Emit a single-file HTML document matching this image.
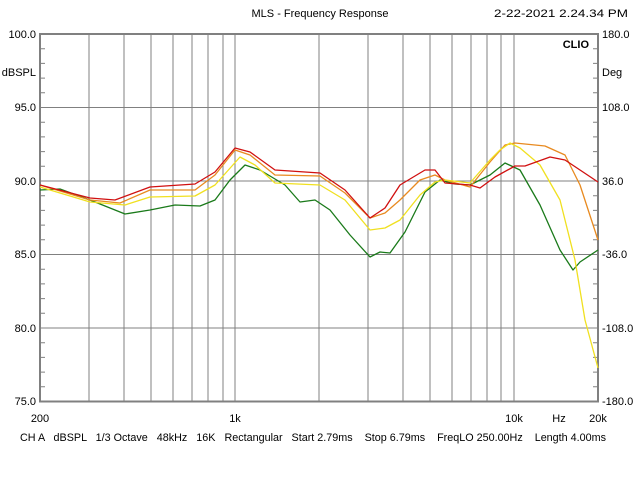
<!DOCTYPE html>
<html><head><style>
body{margin:0;background:#fff;}
svg{display:block;font-family:"Liberation Sans",sans-serif;font-size:11px;}
</style></head><body>
<svg width="640" height="480" viewBox="0 0 640 480" xmlns="http://www.w3.org/2000/svg">
<rect width="640" height="480" fill="#fff"/>
<g stroke="#808080" stroke-width="1">
<line x1="89" y1="34" x2="89" y2="401"/><line x1="124" y1="34" x2="124" y2="401"/>
<line x1="151" y1="34" x2="151" y2="401"/><line x1="173" y1="34" x2="173" y2="401"/>
<line x1="192" y1="34" x2="192" y2="401"/><line x1="208" y1="34" x2="208" y2="401"/>
<line x1="223" y1="34" x2="223" y2="401"/><line x1="235" y1="34" x2="235" y2="401"/>
<line x1="319" y1="34" x2="319" y2="401"/><line x1="368" y1="34" x2="368" y2="401"/>
<line x1="403" y1="34" x2="403" y2="401"/><line x1="430" y1="34" x2="430" y2="401"/>
<line x1="452" y1="34" x2="452" y2="401"/><line x1="471" y1="34" x2="471" y2="401"/>
<line x1="487" y1="34" x2="487" y2="401"/><line x1="501" y1="34" x2="501" y2="401"/>
<line x1="514" y1="34" x2="514" y2="401"/>
<line x1="40" y1="107.5" x2="598" y2="107.5"/><line x1="40" y1="181" x2="598" y2="181"/>
<line x1="40" y1="254.5" x2="598" y2="254.5"/><line x1="40" y1="328" x2="598" y2="328"/>
</g>
<g stroke="#808080" stroke-width="1">
<path d="M41 48.7h4M41 63.4h4M41 78.1h4M41 92.8h4M41 122.2h4M41 136.9h4M41 151.6h4M41 166.3h4M41 195.7h4M41 210.4h4M41 225.1h4M41 239.8h4M41 269.2h4M41 283.9h4M41 298.6h4M41 313.3h4M41 342.7h4M41 357.4h4M41 372.1h4M41 386.8h4"/>
<path d="M593 48.7h4M593 63.4h4M593 78.1h4M593 92.8h4M593 122.2h4M593 136.9h4M593 151.6h4M593 166.3h4M593 195.7h4M593 210.4h4M593 225.1h4M593 239.8h4M593 269.2h4M593 283.9h4M593 298.6h4M593 313.3h4M593 342.7h4M593 357.4h4M593 372.1h4M593 386.8h4"/>
</g>
<rect x="40" y="34" width="558" height="367.5" fill="none" stroke="#808080" stroke-width="2"/>
<g fill="none" stroke-width="1.3" stroke-linejoin="round">
<polyline stroke="#1a7a1a" points="40,190 60,189 90,200 125,214 150,210 175,205 200,206 215,200 230,180 245,165 260,170 285,185 300,202 315,200 330,210 350,235 370,257 380,252 390,253 405,232 425,192 440,180 455,184 470,185 490,175 505,163 520,170 540,205 560,250 573,270 580,262 598,250"/>
<polyline stroke="#e88a20" points="40,185 90,200 120,203 150,190 195,190 215,175 235,150 250,155 275,175 320,176 345,193 370,218 385,213 400,200 420,180 435,175 445,180 470,187 490,162 505,145 515,143 545,146 565,155 580,185 598,240"/>
<polyline stroke="#f0e020" points="40,187 90,202 125,205 150,197 195,196 215,185 240,157 255,165 275,183 320,185 345,200 370,230 385,228 400,220 420,195 435,182 445,180 470,183 490,160 500,150 510,143 520,148 540,165 560,200 575,260 585,320 598,368"/>
<polyline stroke="#d01010" points="40,185 90,198 115,200 150,187 195,184 215,172 235,148 250,152 275,170 320,173 345,190 370,218 385,208 400,185 425,170 435,170 445,183 470,185 480,188 495,177 515,166 525,166 550,157 565,160 580,170 598,182"/>
</g>
<g fill="#000">
<text x="320" y="17" text-anchor="middle">MLS - Frequency Response</text>
<text x="494" y="17" textLength="134" lengthAdjust="spacingAndGlyphs">2-22-2021 2.24.34 PM</text>
<text x="589" y="48" text-anchor="end" font-weight="bold">CLIO</text>
<g text-anchor="end">
<text x="36" y="38">100.0</text><text x="36" y="76">dBSPL</text><text x="36" y="111">95.0</text>
<text x="36" y="185">90.0</text><text x="36" y="258">85.0</text><text x="36" y="332">80.0</text><text x="36" y="405">75.0</text>
</g>
<text x="602" y="38">180.0</text><text x="602" y="76">Deg</text><text x="602" y="111">108.0</text>
<text x="602" y="185">36.0</text><text x="602" y="258">-36.0</text><text x="602" y="332">-108.0</text><text x="602" y="405">-180.0</text>
<text x="40" y="422" text-anchor="middle">200</text>
<text x="235" y="422" text-anchor="middle">1k</text>
<text x="514" y="422" text-anchor="middle">10k</text>
<text x="559" y="422" text-anchor="middle">Hz</text>
<text x="598" y="422" text-anchor="middle">20k</text>
<text x="20" y="441" xml:space="preserve" textLength="586" lengthAdjust="spacingAndGlyphs">CH A   dBSPL   1/3 Octave   48kHz   16K   Rectangular   Start 2.79ms    Stop 6.79ms    FreqLO 250.00Hz    Length 4.00ms</text>
</g>
</svg>
</body></html>
